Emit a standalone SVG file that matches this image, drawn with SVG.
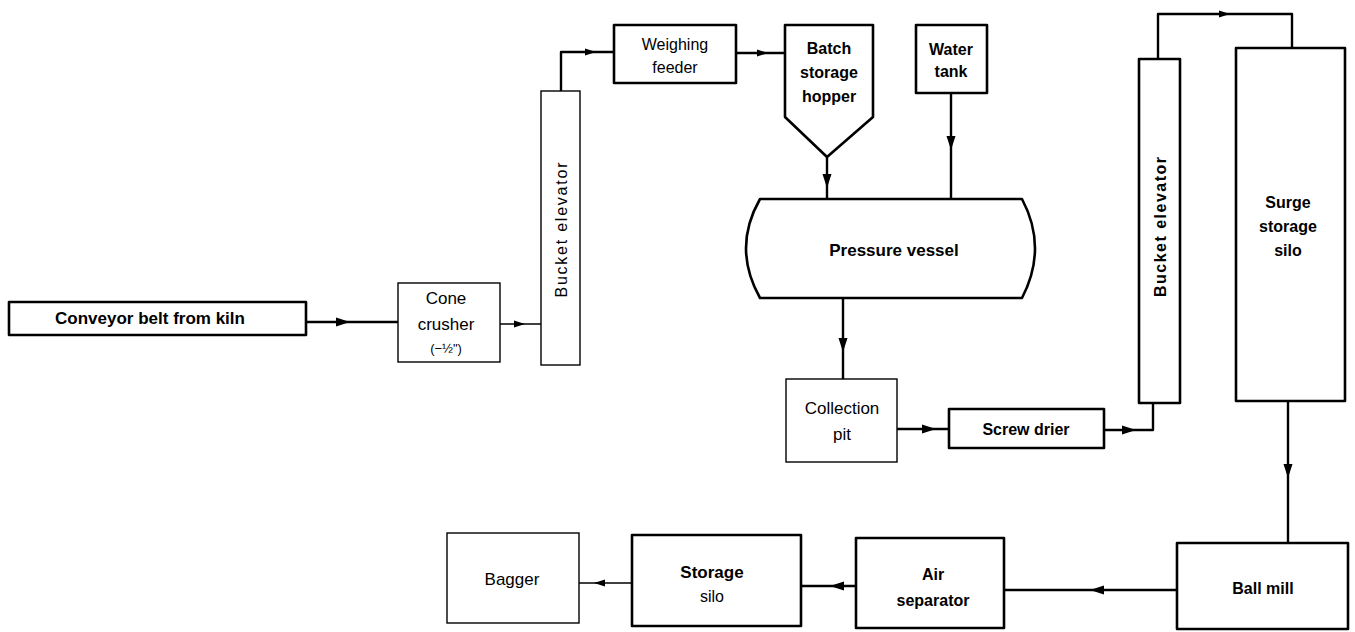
<svg xmlns="http://www.w3.org/2000/svg" xmlns:xlink="http://www.w3.org/1999/xlink" width="1355" height="632" viewBox="0 0 1355 632">
<style>
.thick{fill:#fff;stroke:#000;stroke-width:2.6;stroke-linejoin:round}
.thin{fill:#fff;stroke:#000;stroke-width:1.4}
.ln{fill:none;stroke:#000;stroke-width:2.4;stroke-linejoin:round}
.lnt{fill:none;stroke:#000;stroke-width:1.6}
text{font-family:"Liberation Sans",Arial,sans-serif;font-size:16px;text-anchor:middle;fill:#000}
.b{font-weight:bold}
</style>
<defs>
<path id="ah" d="M0,0 L-14,-4.5 L-14,4.5 Z" fill="#000"/>
<path id="ahs" d="M0,0 L-11,-3.5 L-11,3.5 Z" fill="#000"/>
</defs>
<rect width="1355" height="632" fill="#fff"/>

<g id="connectors">
<line class="ln" x1="306" y1="322" x2="398" y2="322"/>
<use xlink:href="#ah" transform="translate(350,322)"/>
<line class="lnt" x1="500" y1="324" x2="541" y2="324"/>
<use xlink:href="#ahs" transform="translate(525,324)"/>
<polyline class="ln" points="561,91 561,52 614,52"/>
<use xlink:href="#ahs" transform="translate(596,52)"/>
<line class="ln" x1="736" y1="53" x2="785" y2="53"/>
<use xlink:href="#ahs" transform="translate(768,53)"/>
<line class="ln" x1="827" y1="157" x2="827" y2="199"/>
<use xlink:href="#ah" transform="translate(827,188) rotate(90)"/>
<line class="ln" x1="951" y1="93" x2="951" y2="199"/>
<use xlink:href="#ah" transform="translate(951,150) rotate(90)"/>
<line class="ln" x1="843" y1="298" x2="843" y2="379"/>
<use xlink:href="#ah" transform="translate(843,352) rotate(90)"/>
<line class="ln" x1="897" y1="429" x2="949" y2="429"/>
<use xlink:href="#ah" transform="translate(936,429)"/>
<polyline class="ln" points="1104,430 1153,430 1153,403"/>
<use xlink:href="#ah" transform="translate(1136,430)"/>
<polyline class="ln" points="1158,59 1158,14 1292,14 1292,48"/>
<use xlink:href="#ahs" transform="translate(1230,14)"/>
<line class="ln" x1="1288" y1="401" x2="1288" y2="543"/>
<use xlink:href="#ah" transform="translate(1288,478) rotate(90)"/>
<line class="ln" x1="1177" y1="590" x2="1004" y2="590"/>
<use xlink:href="#ah" transform="translate(1090,590) rotate(180)"/>
<line class="ln" x1="856" y1="586" x2="801" y2="586"/>
<use xlink:href="#ah" transform="translate(830,586) rotate(180)"/>
<line class="lnt" x1="632" y1="583" x2="579" y2="583"/>
<use xlink:href="#ahs" transform="translate(594,583) rotate(180)"/>
</g>

<g id="conveyor">
<rect class="thick" x="9" y="302" width="297" height="33"/>
<text class="b" x="150" y="324" style="font-size:17px">Conveyor belt from kiln</text>
</g>

<g id="cone-crusher">
<rect class="thin" x="398" y="283" width="102" height="79"/>
<text x="446" y="304" style="font-size:17px">Cone</text>
<text x="446" y="330" style="font-size:17px">crusher</text>
<text x="446" y="353" style="font-size:13px">(−½")</text>
</g>

<g id="bucket-elevator-1">
<rect class="thin" x="541" y="91" width="39" height="274"/>
<text transform="translate(567,230) rotate(-90)" textLength="135" lengthAdjust="spacing">Bucket elevator</text>
</g>

<g id="weighing-feeder">
<rect class="thick" x="614" y="25" width="122" height="58"/>
<text x="675" y="50">Weighing</text>
<text x="675" y="73">feeder</text>
</g>

<g id="batch-hopper">
<path class="thick" d="M785,25 L873,25 L873,117 L827,157 L785,117 Z"/>
<text class="b" x="829" y="54">Batch</text>
<text class="b" x="829" y="78">storage</text>
<text class="b" x="829" y="102">hopper</text>
</g>

<g id="water-tank">
<rect class="thick" x="916" y="25" width="71" height="68"/>
<text class="b" x="951" y="55">Water</text>
<text class="b" x="951" y="77">tank</text>
</g>

<g id="pressure-vessel">
<path class="thick" d="M760,199 L1022,199 Q1048,248 1022,298 L760,298 Q732,248 760,199 Z"/>
<text class="b" x="894" y="256" style="font-size:17px">Pressure vessel</text>
</g>

<g id="collection-pit">
<rect class="thin" x="786" y="379" width="111" height="83"/>
<text x="842" y="414" style="font-size:17px">Collection</text>
<text x="842" y="440" style="font-size:17px">pit</text>
</g>

<g id="screw-drier">
<rect class="thick" x="949" y="409" width="155" height="39"/>
<text class="b" x="1026" y="435">Screw drier</text>
</g>

<g id="bucket-elevator-2">
<rect class="thick" x="1139" y="59" width="41" height="344"/>
<text class="b" transform="translate(1166,227) rotate(-90)" textLength="140" lengthAdjust="spacing">Bucket elevator</text>
</g>

<g id="surge-silo">
<rect class="thick" x="1236" y="48" width="109" height="353"/>
<text class="b" x="1288" y="208">Surge</text>
<text class="b" x="1288" y="232">storage</text>
<text class="b" x="1288" y="256">silo</text>
</g>

<g id="ball-mill">
<rect class="thick" x="1177" y="543" width="171" height="86"/>
<text class="b" x="1263" y="594">Ball mill</text>
</g>

<g id="air-separator">
<rect class="thick" x="856" y="538" width="148" height="90"/>
<text class="b" x="933" y="580">Air</text>
<text class="b" x="933" y="606">separator</text>
</g>

<g id="storage-silo">
<rect class="thick" x="632" y="535" width="169" height="91"/>
<text class="b" x="712" y="578" style="font-size:17px">Storage</text>
<text x="712" y="602">silo</text>
</g>

<g id="bagger">
<rect class="thin" x="447" y="533" width="132" height="90"/>
<text x="512" y="585" style="font-size:17px">Bagger</text>
</g>
</svg>
